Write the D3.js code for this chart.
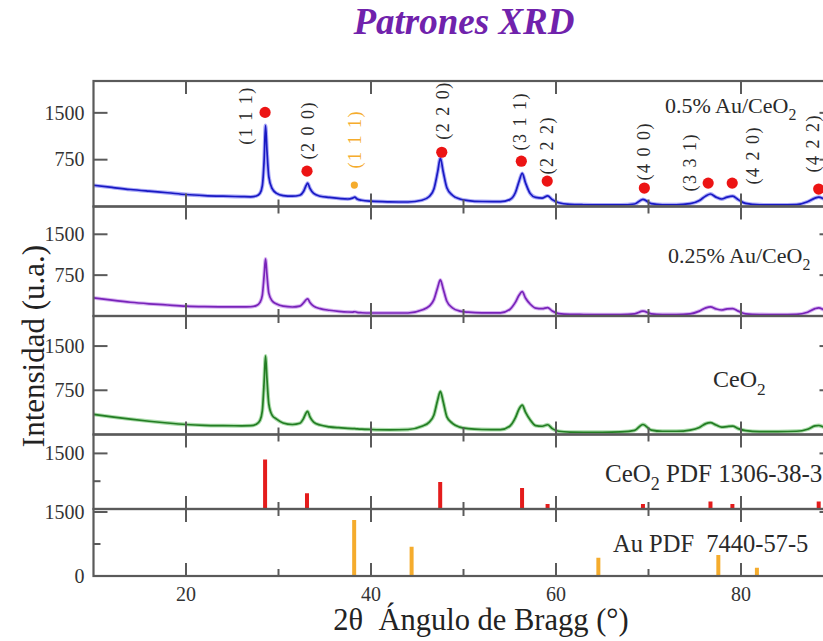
<!DOCTYPE html>
<html>
<head>
<meta charset="utf-8">
<script src="https://cdn.jsdelivr.net/npm/d3@7"></script>
<style>
  html, body { margin: 0; padding: 0; background: #fff; }
  svg { display: block; }
  svg text { font-family: "Liberation Serif", "DejaVu Serif", "Times New Roman", Times, serif; }
</style>
</head>
<body>
<svg id="chart" width="823" height="641"></svg>
<script>
// 2θ sampling grid (degrees) shared by the three measured patterns
const twoTheta = [10, 12, 14, 16, 18, 20, 22, 24, 26, 27, 27.6, 28.0, 28.25, 28.45, 28.6, 28.75, 28.95, 29.3, 29.8,
  30.5, 31.5, 32.3, 32.7, 33.0, 33.15, 33.4, 33.8, 34.5, 35.5, 36.5, 37.5, 38.0, 38.25, 38.5, 39, 40, 42, 44,
  45.5, 46.3, 46.8, 47.2, 47.5, 47.8, 48.2, 48.8, 49.6, 50.5, 52, 54, 55, 55.6, 56.0, 56.35, 56.7, 57.2, 57.8,
  58.5, 59.1, 59.6, 60.3, 61.5, 63, 65, 67, 68.5, 69.4, 70.3, 71.5, 73, 74.5, 75.5, 76.2, 76.7, 77.3, 77.9,
  78.5, 79.1, 79.7, 80.5, 82, 84, 86, 87.2, 88.0, 88.4, 89.0, 90];

// Intensity (u.a.) of 0.5% Au/CeO2
const au05 = [340, 305, 272, 245, 220, 192, 175, 165, 158, 155, 168, 212, 330, 750, 1300, 900, 480, 290, 210,
  175, 165, 180, 240, 340, 375, 290, 210, 165, 145, 130, 120, 135, 150, 120, 100, 85, 75, 72,
  100, 160, 280, 550, 775, 560, 300, 180, 120, 95, 80, 78, 110, 220, 400, 530, 380, 210, 145,
  135, 170, 110, 60, 35, 28, 25, 25, 40, 115, 45, 28, 28, 45, 95, 170, 200, 150, 120,
  150, 165, 110, 50, 28, 25, 30, 75, 135, 150, 120, 70];

// Intensity (u.a.) of 0.25% Au/CeO2
const au025 = [333, 290, 252, 224, 202, 182, 172, 167, 166, 170, 190, 250, 380, 750, 1050, 760, 420, 280, 220,
  180, 165, 180, 240, 300, 316, 250, 180, 135, 105, 85, 73, 72, 78, 68, 60, 55, 55, 55,
  110, 180, 300, 520, 664, 500, 270, 150, 90, 70, 58, 58, 120, 250, 380, 447, 330, 220, 145,
  135, 155, 90, 45, 30, 28, 26, 27, 40, 88, 40, 28, 28, 40, 90, 150, 168, 130, 110,
  130, 137, 90, 40, 28, 26, 30, 70, 135, 150, 110, 60];

// Intensity (u.a.) of bare CeO2
const ceo2 = [341, 300, 260, 225, 195, 170, 155, 150, 148, 150, 175, 240, 400, 900, 1335, 950, 520, 330, 260,
  195, 170, 190, 270, 370, 392, 300, 210, 160, 130, 115, 105, 100, 98, 95, 90, 85, 80, 85,
  140, 210, 330, 580, 733, 560, 300, 190, 125, 100, 85, 82, 140, 280, 430, 497, 380, 250, 150,
  140, 165, 100, 55, 40, 38, 38, 45, 70, 170, 75, 55, 55, 75, 120, 185, 200, 160, 125,
  135, 142, 100, 65, 50, 50, 55, 90, 145, 153, 120, 75];

// Reference sticks: CeO2 PDF 1306-38-3
const ceo2RefAngles = [28.55, 33.08, 47.48, 56.33, 59.09, 69.4, 76.7, 79.07, 88.4];
const ceo2RefInt = [1336, 428, 727, 564, 136, 136, 200, 136, 200];

// Reference sticks: Au PDF 7440-57-5
const auRefAngles = [38.18, 44.39, 64.58, 77.55, 81.72];
const auRefInt = [1312, 687, 430, 492, 195];

// Miller indices marked on the 0.5% Au/CeO2 pattern
const hklText = ["(1 1 1)", "(2 0 0)", "(1 1 1)", "(2 2 0)", "(3 1 1)", "(2 2 2)", "(4 0 0)", "(3 3 1)", "(4 2 0)", "(4 2 2)"];
const hklPhase = ["CeO2", "CeO2", "Au", "CeO2", "CeO2", "CeO2", "CeO2", "CeO2", "CeO2", "CeO2"];
const hklTextAngle = [26.4, 33.2, 38.2, 47.8, 56.1, 59.0, 69.5, 74.5, 81.3, 87.8];
const hklTextLevel = [1459, 1220, 1077, 1539, 1364, 981, 885, 710, 821, 1013];
const markerAngle = [28.55, 33.08, 38.2, 47.65, 56.25, 59.05, 69.55, 76.45, 79.05, 88.4];
const markerLevel = [1507, 566, 343, 869, 726, 407, 295, 375, 375, 279];

// Axis ticks
const xMajorTicks = [20, 40, 60, 80];
const xMinorTicks = [30, 50, 70, 90];
const xDomain = [10, 90];

const svg = d3.select("#chart");

const x = d3.scaleLinear().domain(xDomain).range([93.5, 833.5]);

const frameColor = "#5a5a5a";
const textColor = "#2a2a2a";

// Stacked panels, top to bottom
const panels = [
  { top: 81,    bottom: 206.5, max: 2010, major: [750, 1500], minor: [] },
  { top: 206.5, bottom: 316,   max: 2010, major: [750, 1500], minor: [] },
  { top: 316,   bottom: 434.5, max: 2010, major: [750, 1500], minor: [] },
  { top: 434.5, bottom: 509,   max: 2010, major: [1500],      minor: [750] },
  { top: 509,   bottom: 576,   max: 1570, major: [0, 1500],   minor: [750] }
];
panels.forEach(p => {
  p.y = d3.scaleLinear().domain([0, p.max]).range([p.bottom, p.top]);
});

const defs = svg.append("defs");
panels.forEach((p, i) => {
  defs.append("clipPath").attr("id", "clip" + i)
    .append("rect")
    .attr("x", x(xDomain[0])).attr("y", p.top)
    .attr("width", x(xDomain[1]) - x(xDomain[0])).attr("height", p.bottom - p.top);
});

// Measured patterns
const patterns = [
  { values: au05,  panel: 0, core: "rgb(25,25,195)",  halo: "rgb(125,125,245)" },
  { values: au025, panel: 1, core: "rgb(120,35,185)", halo: "rgb(195,140,235)" },
  { values: ceo2,  panel: 2, core: "rgb(35,125,35)",  halo: "rgb(125,200,125)" }
];
patterns.forEach(s => {
  const p = panels[s.panel];
  const pts = twoTheta.map((t, i) => [t, s.values[i]]);
  const line = d3.line().x(d => x(d[0])).y(d => p.y(d[1])).curve(d3.curveMonotoneX);
  const g = svg.append("g").attr("clip-path", `url(#clip${s.panel})`);
  g.append("path").attr("d", line(pts)).attr("fill", "none")
    .attr("stroke", s.halo).attr("stroke-width", 3.8).attr("stroke-opacity", 0.65)
    .attr("stroke-linejoin", "round");
  g.append("path").attr("d", line(pts)).attr("fill", "none")
    .attr("stroke", s.core).attr("stroke-width", 1.7).attr("stroke-linejoin", "round");
});

// Reference sticks
function drawSticks(angles, ints, panelIdx, color) {
  const p = panels[panelIdx];
  svg.append("g").attr("clip-path", `url(#clip${panelIdx})`)
    .selectAll("line").data(angles.map((a, i) => [a, ints[i]])).join("line")
    .attr("x1", d => x(d[0])).attr("x2", d => x(d[0]))
    .attr("y1", p.y(0)).attr("y2", d => p.y(d[1]))
    .attr("stroke", color).attr("stroke-width", 4);
}
drawSticks(ceo2RefAngles, ceo2RefInt, 3, "rgb(228,28,28)");
drawSticks(auRefAngles, auRefInt, 4, "rgb(245,172,45)");

// Peak markers and Miller index labels on the top pattern
const p0 = panels[0];
const ann = svg.append("g");
ann.selectAll("circle").data(markerAngle.map((a, i) => ({ a, v: markerLevel[i], ph: hklPhase[i] })))
  .join("circle")
  .attr("cx", d => x(d.a)).attr("cy", d => p0.y(d.v))
  .attr("r", d => d.ph === "Au" ? 3.6 : 5.6)
  .attr("fill", d => d.ph === "Au" ? "rgb(245,172,45)" : "rgb(236,20,20)");
ann.selectAll("text").data(hklText.map((t, i) => ({ t, a: hklTextAngle[i], v: hklTextLevel[i], ph: hklPhase[i] })))
  .join("text")
  .attr("transform", d => `translate(${x(d.a)},${p0.y(d.v)}) rotate(-90)`)
  .attr("text-anchor", "middle").attr("dy", "0.35em")
  .attr("font-size", 18).attr("letter-spacing", 1.5)
  .attr("fill", d => d.ph === "Au" ? "rgb(245,172,45)" : textColor)
  .text(d => d.t);

// Panel frames and ticks
const axes = svg.append("g").attr("stroke", frameColor);
panels.forEach((p, i) => {
  axes.append("rect")
    .attr("x", x(xDomain[0])).attr("y", p.top)
    .attr("width", x(xDomain[1]) - x(xDomain[0])).attr("height", p.bottom - p.top)
    .attr("fill", "none").attr("stroke-width", 2.2);
  const tickSets = [[xMajorTicks, 13], [xMinorTicks, 7]];
  tickSets.forEach(([ticks, len]) => {
    ticks.forEach(t => {
      axes.append("line").attr("x1", x(t)).attr("x2", x(t))
        .attr("y1", p.bottom).attr("y2", p.bottom - len).attr("stroke-width", 2);
      if (!(i === 0 && len < 10)) {
        axes.append("line").attr("x1", x(t)).attr("x2", x(t))
          .attr("y1", p.top).attr("y2", p.top + len).attr("stroke-width", 2);
      }
    });
  });
  [[p.major, 14], [p.minor, 7]].forEach(([ticks, len]) => {
    ticks.forEach(v => {
      axes.append("line").attr("x1", x(xDomain[0])).attr("x2", x(xDomain[0]) + len)
        .attr("y1", p.y(v)).attr("y2", p.y(v)).attr("stroke-width", 2);
      axes.append("line").attr("x1", x(xDomain[1])).attr("x2", x(xDomain[1]) - len)
        .attr("y1", p.y(v)).attr("y2", p.y(v)).attr("stroke-width", 2);
    });
  });
  // y tick labels
  svg.append("g").selectAll("text").data(p.major).join("text")
    .attr("x", x(xDomain[0]) - 9).attr("y", v => p.y(v)).attr("dy", "0.34em")
    .attr("text-anchor", "end").attr("font-size", 20).attr("fill", "#333")
    .text(v => v);
});

// x tick labels along the bottom panel
const pl = panels[panels.length - 1];
svg.append("g").selectAll("text").data(xMajorTicks).join("text")
  .attr("x", d => x(d)).attr("y", pl.bottom + 25)
  .attr("text-anchor", "middle").attr("font-size", 20).attr("fill", "#333")
  .text(d => d);

// Series labels with subscripts
function label(xPos, yPos, size, parts) {
  const t = svg.append("text").attr("x", xPos).attr("y", yPos)
    .attr("font-size", size).attr("fill", textColor);
  let lowered = false;
  parts.forEach(([s, sub]) => {
    const ts = t.append("tspan").text(s);
    if (sub) {
      ts.attr("font-size", size * 0.72).attr("dy", size * 0.32);
      lowered = true;
    } else if (lowered) {
      ts.attr("dy", -size * 0.32);
      lowered = false;
    }
  });
}
label(665, 113, 22, [["0.5% Au/CeO"], ["2", true]]);
label(668, 263, 22, [["0.25% Au/CeO"], ["2", true]]);
label(713, 387, 24, [["CeO"], ["2", true]]);
label(605, 482, 25, [["CeO"], ["2", true], [" PDF 1306-38-3"]]);
label(613, 552, 24.5, [["Au PDF\u00a0\u00a07440-57-5"]]);

// Axis titles
svg.append("text")
  .attr("transform", "translate(44,346) rotate(-90)")
  .attr("text-anchor", "middle").attr("font-size", 31).attr("fill", "#222")
  .text("Intensidad (u.a.)");
svg.append("text")
  .attr("x", 481).attr("y", 630).attr("text-anchor", "middle")
  .attr("font-size", 30.5).attr("fill", "#222")
  .text("2\u03b8\u00a0\u00a0\u00c1ngulo de Bragg (\u00b0)");

// Title
svg.append("text")
  .attr("x", 464).attr("y", 34).attr("text-anchor", "middle")
  .attr("font-size", 37).attr("font-weight", "bold").attr("font-style", "italic")
  .attr("fill", "rgb(112,34,172)")
  .text("Patrones XRD");
</script>
</body>
</html>
